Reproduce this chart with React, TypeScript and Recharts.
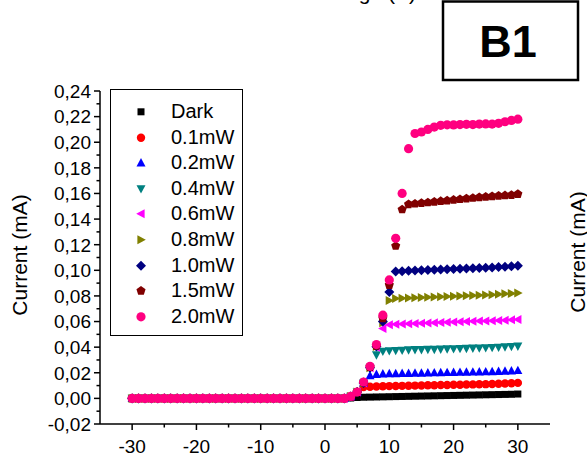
import { ScatterChart, Scatter, XAxis, YAxis, Legend } from 'recharts';

const FONT = '"Liberation Sans", Arial, sans-serif';

// bias voltage (V), one point per volt
const VOLTAGE = [
  -30, -29, -28, -27, -26, -25, -24, -23, -22, -21, -20, -19, -18, -17, -16, -15,
  -14, -13, -12, -11, -10, -9, -8, -7, -6, -5, -4, -3, -2, -1, 0, 1, 2, 3,
  4, 5, 6, 7, 8, 9, 10, 11, 12, 13, 14, 15, 16, 17, 18, 19, 20, 21, 22, 23, 24, 25, 26, 27, 28, 29, 30,
];

// -30 V .. 3 V: every curve sits on zero
const REVERSE_OFF = [
  0, 0, 0, 0, 0, 0, 0, 0, 0, 0, 0, 0, 0, 0, 0, 0, 0,
  0, 0, 0, 0, 0, 0, 0, 0, 0, 0, 0, 0, 0, 0, 0, 0, 0,
];

// current (mA) from 4 V to 30 V
const DARK = [...REVERSE_OFF,
  0.0003, 0.0007, 0.0009, 0.0010, 0.0011, 0.0012, 0.0013, 0.0014, 0.0015, 0.0016, 0.0017, 0.0018, 0.0019, 0.0020,
  0.0021, 0.0022, 0.0023, 0.0024, 0.0025, 0.0026, 0.0027, 0.0028, 0.0029, 0.0030, 0.0031, 0.0032, 0.0034];
const P01 = [...REVERSE_OFF,
  0.0015, 0.0048, 0.0088, 0.0091, 0.0093, 0.0095, 0.0096, 0.0097, 0.0098, 0.0099, 0.0100, 0.0101, 0.0102, 0.0103,
  0.0104, 0.0105, 0.0106, 0.0107, 0.0108, 0.0109, 0.0110, 0.0111, 0.0112, 0.0114, 0.0116, 0.0118, 0.0121];
const P02 = [...REVERSE_OFF,
  0.0015, 0.0050, 0.0120, 0.0178, 0.0188, 0.0191, 0.0193, 0.0194, 0.0195, 0.0196, 0.0197, 0.0198, 0.0199, 0.0200,
  0.0201, 0.0202, 0.0203, 0.0204, 0.0205, 0.0206, 0.0207, 0.0208, 0.0209, 0.0211, 0.0213, 0.0215, 0.0218];
const P04 = [...REVERSE_OFF,
  0.0015, 0.0050, 0.0120, 0.0235, 0.0340, 0.0368, 0.0372, 0.0374, 0.0376, 0.0378, 0.0380, 0.0381, 0.0382, 0.0383,
  0.0385, 0.0386, 0.0387, 0.0389, 0.0390, 0.0392, 0.0393, 0.0395, 0.0397, 0.0399, 0.0402, 0.0405, 0.0408];
const P06 = [...REVERSE_OFF,
  0.0015, 0.0050, 0.0120, 0.0240, 0.0400, 0.0545, 0.0575, 0.0578, 0.0580, 0.0582, 0.0584, 0.0586, 0.0588, 0.0590,
  0.0592, 0.0594, 0.0596, 0.0598, 0.0600, 0.0602, 0.0604, 0.0605, 0.0607, 0.0609, 0.0611, 0.0613, 0.0615];
const P08 = [...REVERSE_OFF,
  0.0015, 0.0050, 0.0120, 0.0240, 0.0405, 0.0590, 0.0765, 0.0780, 0.0782, 0.0784, 0.0786, 0.0788, 0.0790, 0.0792,
  0.0794, 0.0796, 0.0798, 0.0800, 0.0802, 0.0804, 0.0806, 0.0808, 0.0810, 0.0813, 0.0816, 0.0819, 0.0823];
const P10 = [...REVERSE_OFF,
  0.0015, 0.0050, 0.0120, 0.0240, 0.0405, 0.0600, 0.0830, 0.0990, 0.0993, 0.0996, 0.0998, 0.1000, 0.1002, 0.1004,
  0.1006, 0.1008, 0.1010, 0.1012, 0.1014, 0.1016, 0.1018, 0.1020, 0.1022, 0.1025, 0.1028, 0.1031, 0.1035];
const P15 = [...REVERSE_OFF,
  0.0015, 0.0050, 0.0125, 0.0245, 0.0410, 0.0625, 0.0885, 0.1190, 0.1475, 0.1515, 0.1520, 0.1525, 0.1530, 0.1535,
  0.1540, 0.1545, 0.1550, 0.1555, 0.1560, 0.1565, 0.1570, 0.1574, 0.1578, 0.1582, 0.1585, 0.1588, 0.1595];
const P20 = [...REVERSE_OFF,
  0.0015, 0.0050, 0.0128, 0.0250, 0.0420, 0.0650, 0.0925, 0.1250, 0.1600, 0.1950, 0.2068, 0.2080, 0.2100, 0.2118,
  0.2132, 0.2136, 0.2135, 0.2138, 0.2140, 0.2138, 0.2142, 0.2143, 0.2142, 0.2148, 0.2160, 0.2170, 0.2180];

const SERIES_NAMES = ['Dark', '0.1mW', '0.2mW', '0.4mW', '0.6mW', '0.8mW', '1.0mW', '1.5mW', '2.0mW'];
const SERIES_VALUES = [DARK, P01, P02, P04, P06, P08, P10, P15, P20];
const SERIES_COLORS = ['#000000', '#FF0000', '#0000FF', '#008080', '#FF00FF', '#808000', '#000080', '#800000', '#FF0080'];
const SERIES_SHAPES = ['square', 'circle', 'up', 'down', 'left', 'right', 'diamond', 'pentagon', 'hexcircle'];

const X_MAJOR = [-30, -20, -10, 0, 10, 20, 30];
const X_MINOR = [-25, -15, -5, 5, 15, 25];
const Y_MAJOR = [-0.02, 0, 0.02, 0.04, 0.06, 0.08, 0.1, 0.12, 0.14, 0.16, 0.18, 0.2, 0.22, 0.24];
const Y_MINOR = [-0.01, 0.01, 0.03, 0.05, 0.07, 0.09, 0.11, 0.13, 0.15, 0.17, 0.19, 0.21, 0.23];

function Marker({ kind, cx, cy, fill }: { kind: string; cx: number; cy: number; fill: string }) {
  const poly = (pts: number[][]) => (
    <polygon points={pts.map(([dx, dy]) => `${cx + dx},${cy + dy}`).join(' ')} fill={fill} />
  );
  switch (kind) {
    case 'square':
      return <rect x={cx - 3.5} y={cy - 3.5} width={7} height={7} fill={fill} />;
    case 'circle':
      return <circle cx={cx} cy={cy} r={4.2} fill={fill} />;
    case 'hexcircle':
      return <circle cx={cx} cy={cy} r={4.6} fill={fill} />;
    case 'up':
      return poly([[0, -4.8], [4.5, 3.6], [-4.5, 3.6]]);
    case 'down':
      return poly([[0, 4.8], [4.5, -3.6], [-4.5, -3.6]]);
    case 'left':
      return poly([[-4.8, 0], [3.6, -4.5], [3.6, 4.5]]);
    case 'right':
      return poly([[4.8, 0], [-3.6, -4.5], [-3.6, 4.5]]);
    case 'diamond':
      return poly([[0, -5], [5, 0], [0, 5], [-5, 0]]);
    case 'pentagon':
      return poly([0, 1, 2, 3, 4].map((k) => {
        const a = -Math.PI / 2 + (k * 2 * Math.PI) / 5;
        return [4.8 * Math.cos(a), 4.8 * Math.sin(a)];
      }));
    default:
      return null;
  }
}

const XTick = (props: any) => {
  const { x, y, payload } = props;
  const major = X_MAJOR.includes(payload.value);
  return (
    <g>
      <line x1={x} y1={y} x2={x} y2={y + (major ? 6 : 3.5)} stroke="#000" strokeWidth={1.5} />
      {major && (
        <text x={x} y={y + 29} textAnchor="middle" fontSize={19} fontFamily={FONT} fill="#000">
          {payload.value}
        </text>
      )}
    </g>
  );
};

const YTick = (props: any) => {
  const { x, y, payload } = props;
  const major = Y_MAJOR.some((m) => Math.abs(m - payload.value) < 1e-9);
  return (
    <g>
      <line x1={x} y1={y} x2={x - (major ? 6 : 3.5)} y2={y} stroke="#000" strokeWidth={1.5} />
      {major && (
        <text x={x - 9} y={y} dy="0.36em" textAnchor="end" fontSize={19} fontFamily={FONT} fill="#000">
          {payload.value.toFixed(2).replace('.', ',')}
        </text>
      )}
    </g>
  );
};

const LegendBox = () => (
  <div style={{ width: 133, height: 247, border: '1px solid #000', boxSizing: 'border-box', background: '#fff', paddingTop: 9 }}>
    {SERIES_NAMES.map((name, k) => (
      <div key={name} style={{ height: 25.6, display: 'flex', alignItems: 'center' }}>
        <svg width={60} height={25.6} style={{ display: 'block' }}>
          <Marker kind={SERIES_SHAPES[k]} cx={30} cy={12.8} fill={SERIES_COLORS[k]} />
        </svg>
        <span style={{ fontSize: 20, fontFamily: FONT, color: '#000', lineHeight: '25.6px' }}>{name}</span>
      </div>
    ))}
  </div>
);

export default function App() {
  return (
    <div style={{ position: 'absolute', left: 0, top: 0, width: 587, height: 462, background: '#fff', fontFamily: FONT }}>
      <ScatterChart width={587} height={462} margin={{ top: 91, right: 37, bottom: 0, left: 0 }}>
        <XAxis
          type="number"
          dataKey="v"
          domain={[-35, 35]}
          ticks={[...X_MAJOR, ...X_MINOR].sort((a, b) => a - b)}
          interval={0}
          height={38}
          tickSize={0}
          tickMargin={0}
          tickLine={false}
          axisLine={{ stroke: '#000', strokeWidth: 1.5 }}
          tick={<XTick />}
        />
        <YAxis
          type="number"
          dataKey="i"
          domain={[-0.02, 0.24]}
          ticks={[...Y_MAJOR, ...Y_MINOR].sort((a, b) => a - b)}
          interval={0}
          width={100}
          tickSize={0}
          tickMargin={0}
          tickLine={false}
          axisLine={{ stroke: '#000', strokeWidth: 1.5 }}
          tick={<YTick />}
        />
        <Legend
          layout="vertical"
          align="center"
          verticalAlign="middle"
          wrapperStyle={{ left: 110, top: 89, width: 133 }}
          content={<LegendBox />}
        />
        {SERIES_NAMES.map((name, k) => (
          <Scatter
            key={name}
            name={name}
            data={VOLTAGE.map((v, i) => ({ v, i: SERIES_VALUES[k][i] }))}
            fill={SERIES_COLORS[k]}
            isAnimationActive={false}
            shape={(p: any) => <Marker kind={SERIES_SHAPES[k]} cx={p.cx} cy={p.cy} fill={SERIES_COLORS[k]} />}
          />
        ))}
      </ScatterChart>
      <svg width={587} height={462} style={{ position: 'absolute', left: 0, top: 0, pointerEvents: 'none' }}>
        <text x={416} y={0} textAnchor="end" fontSize={21} fontFamily={FONT} fill="#000">Voltage (V)</text>
        <rect x={443} y={1.5} width={135} height={78.5} fill="#fff" stroke="#000" strokeWidth={2.5} />
        <text x={508} y={57} textAnchor="middle" fontSize={45} fontWeight="bold" fontFamily={FONT} fill="#000">B1</text>
        <text x={19} y={255} transform="rotate(-90 19 255)" textAnchor="middle" dominantBaseline="central" fontSize={21} fontFamily={FONT} fill="#000">
          Current (mA)
        </text>
        <text x={577} y={252} transform="rotate(-90 577 252)" textAnchor="middle" dominantBaseline="central" fontSize={21} fontFamily={FONT} fill="#000">
          Current (mA)
        </text>
      </svg>
    </div>
  );
}
